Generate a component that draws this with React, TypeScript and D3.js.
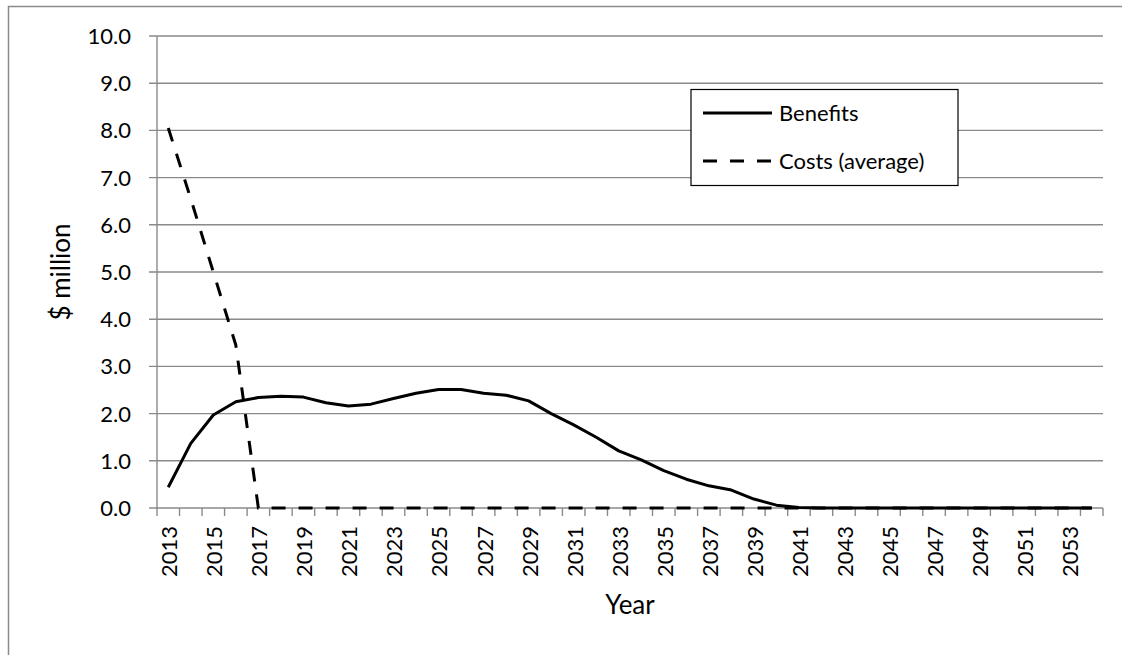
import React from "react";
import * as d3 from "d3";

const years: number[] = d3.range(2013, 2055);
const benefits: number[] = [
  0.44, 1.37, 1.97, 2.25, 2.34, 2.37, 2.35, 2.23, 2.16, 2.2, 2.32, 2.43, 2.51, 2.51, 2.43, 2.39,
  2.27, 2.0, 1.76, 1.5, 1.21, 1.02, 0.79, 0.61, 0.47, 0.38, 0.19, 0.06, 0.01, 0, 0, 0, 0, 0, 0,
  0, 0, 0, 0, 0, 0, 0,
];
const costs: number[] = [
  8.05, 6.55, 5.0, 3.45, 0, 0, 0, 0, 0, 0, 0, 0, 0, 0, 0, 0, 0, 0, 0, 0, 0, 0, 0, 0, 0, 0, 0, 0,
  0, 0, 0, 0, 0, 0, 0, 0, 0, 0, 0, 0, 0, 0,
];
const yTicks: number[] = [0, 1, 2, 3, 4, 5, 6, 7, 8, 9, 10];
const seriesNames: string[] = ["Benefits", "Costs (average)"];

const FONT = "Lato, 'Open Sans', sans-serif";
const GRID = "#8a8a8a";

export default function App() {
  const left = 157;
  const right = 1103;
  const top = 36;
  const bottom = 508;

  const x = d3
    .scaleBand<number>()
    .domain(years)
    .range([left, right])
    .paddingInner(0)
    .paddingOuter(0);
  const y = d3.scaleLinear().domain([0, 10]).range([bottom, top]);
  const cx = (yr: number) => (x(yr) as number) + x.bandwidth() / 2;

  const line = d3
    .line<number>()
    .x((_, i) => cx(years[i]))
    .y((d) => y(d));

  const boundaries = d3.range(years.length + 1).map((i) => left + i * x.bandwidth());

  return (
    <svg
      width={1122}
      height={655}
      style={{ position: "absolute", left: 0, top: 0, background: "#fff" }}
    >
      <rect x={0} y={0} width={1122} height={655} fill="#fff" />
      <rect x={8.5} y={6.5} width={1120} height={700} fill="none" stroke={GRID} strokeWidth={1.5} />

      {/* gridlines + y ticks */}
      {yTicks.map((t) => (
        <g key={t}>
          <line x1={left - 8} x2={right} y1={y(t)} y2={y(t)} stroke={GRID} strokeWidth={1.4} />
          <text
            x={131}
            y={y(t)}
            dy="0.36em"
            textAnchor="end"
            fontFamily={FONT}
            fontSize={22}
            fill="#000"
          >
            {t.toFixed(1)}
          </text>
        </g>
      ))}
      {/* y axis */}
      <line x1={left} x2={left} y1={top} y2={bottom + 1} stroke={GRID} strokeWidth={1.4} />
      {/* x ticks */}
      {boundaries.map((bx, i) => (
        <line key={i} x1={bx} x2={bx} y1={bottom} y2={bottom + 8} stroke={GRID} strokeWidth={1.4} />
      ))}
      {years.map((yr, i) =>
        i % 2 === 0 ? (
          <text
            key={yr}
            transform={`translate(${cx(yr) + 1},${526}) rotate(-90)`}
            dy="0.36em"
            textAnchor="end"
            fontFamily={FONT}
            fontSize={22}
            fill="#000"
          >
            {yr}
          </text>
        ) : null
      )}

      {/* series */}
      <path
        d={line(costs) as string}
        fill="none"
        stroke="#000"
        strokeWidth={3}
        strokeDasharray="14,13"
      />
      <path d={line(benefits) as string} fill="none" stroke="#000" strokeWidth={3} strokeLinejoin="round" />

      {/* axis titles */}
      <text
        x={(left + right) / 2}
        y={614}
        textAnchor="middle"
        fontFamily={FONT}
        fontSize={26}
        fill="#000"
      >
        Year
      </text>
      <text
        transform={`translate(70,${(top + bottom) / 2}) rotate(-90)`}
        textAnchor="middle"
        fontFamily={FONT}
        fontSize={26}
        fill="#000"
      >
        $ million
      </text>

      {/* legend */}
      <rect x={691} y={89.5} width={267} height={96} fill="#fff" stroke="#000" strokeWidth={1.2} />
      <line x1={703} x2={772} y1={113} y2={113} stroke="#000" strokeWidth={3} />
      <line x1={703} x2={772} y1={161} y2={161} stroke="#000" strokeWidth={3} strokeDasharray="14,13" />
      <text x={779} y={113} dy="0.36em" fontFamily={FONT} fontSize={22} fill="#000">
        {seriesNames[0]}
      </text>
      <text x={779} y={161} dy="0.36em" fontFamily={FONT} fontSize={22} fill="#000">
        {seriesNames[1]}
      </text>
    </svg>
  );
}
